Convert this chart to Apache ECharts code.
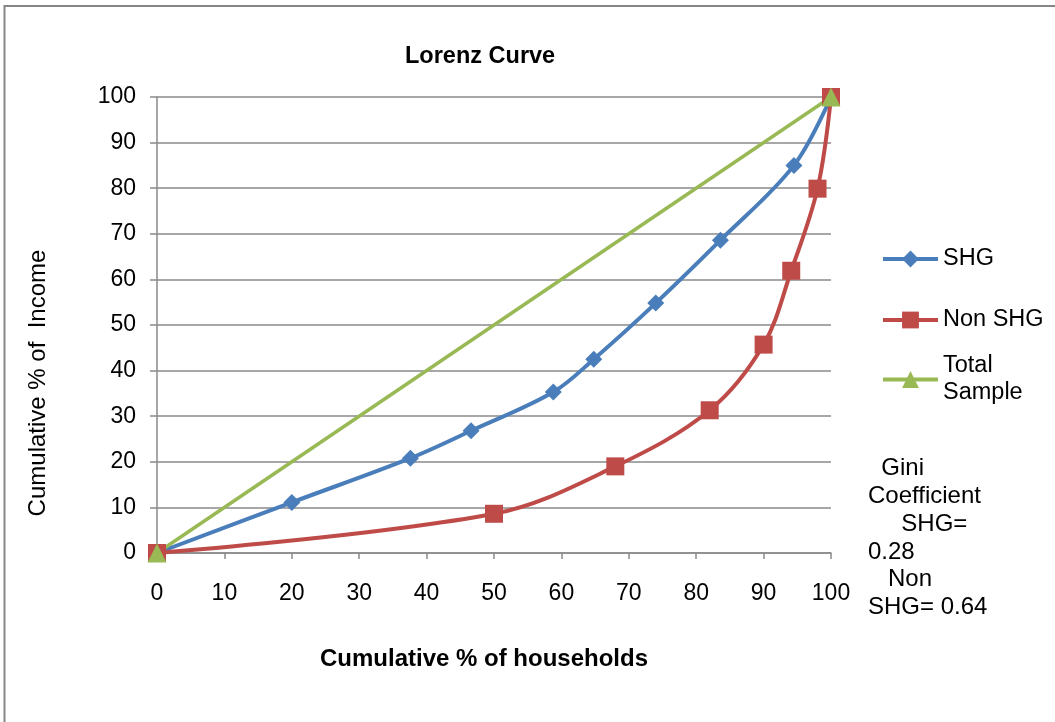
<!DOCTYPE html>
<html>
<head>
<meta charset="utf-8">
<script src="https://cdn.jsdelivr.net/npm/echarts@6/dist/echarts.min.js"></script>
<style>
  html, body { margin: 0; padding: 0; background: #fff; }
  #lorenzchart { width: 1055px; height: 722px; }
</style>
</head>
<body>
<div id="lorenzchart"></div>
<script>
// values
var shgPoints = [[0, 0], [20, 11.1], [37.6, 20.8], [46.6, 26.8], [58.8, 35.3], [64.8, 42.5], [74, 54.8], [83.6, 68.6], [94.5, 85], [100, 100]];
var nonShgPoints = [[0, 0], [50, 8.6], [68, 19], [82, 31.3], [90, 45.7], [94.1, 61.9], [98, 79.9], [100, 100]];
var totalPoints = [[0, 0], [100, 100]];
var giniLines = ['  Gini', 'Coefficient', '     SHG=', '0.28', '   Non', 'SHG= 0.64'];

var fontFam = 'Arial, "Liberation Sans", sans-serif';
var fontSz = 23;
var gridColor = '#8a8a8a';

var lorenzchart = echarts.init(document.getElementById('lorenzchart'));

var option = {
    backgroundColor: '#fff',
    animation: false,
    title: {
        text: 'Lorenz Curve',
        left: 400,
        top: 40,
        textStyle: {
            color: '#000',
            fontFamily: fontFam,
            fontSize: 23.5,
            fontWeight: 'bold'
        }
    },
    legend: [
        {
            orient: 'vertical',
            left: 876,
            top: 242,
            itemWidth: 55,
            itemHeight: 21,
            itemGap: 37,
            data: ['SHG', 'Non SHG'],
            lineStyle: { width: 4 },
            textStyle: { color: '#000', fontFamily: fontFam, fontSize: 23.5, lineHeight: 23 }
        },
        {
            orient: 'vertical',
            left: 876,
            top: 334,
            itemWidth: 55,
            itemHeight: 21,
            data: ['Total Sample'],
            lineStyle: { width: 4 },
            formatter: function () { return 'Total\nSample'; },
            textStyle: { color: '#000', fontFamily: fontFam, fontSize: 23.5, lineHeight: 27, padding: [27, 0, 0, 0] }
        }
    ],
    grid: {
        left: 157,
        right: 224,
        top: 97,
        bottom: 169
    },
    xAxis: {
        type: 'value',
        min: 0,
        max: 100,
        interval: 10,
        name: 'Cumulative % of households',
        nameLocation: 'middle',
        nameGap: 94,
        nameTextStyle: { color: '#000', fontFamily: fontFam, fontSize: 24, fontWeight: 'bold', padding: [0, 20, 0, 0] },
        axisLine: { show: true, lineStyle: { color: gridColor, width: 1.5 } },
        axisTick: { show: true, length: 6, inside: false, lineStyle: { color: gridColor, width: 1.5 } },
        axisLabel: { color: '#000', fontFamily: fontFam, fontSize: fontSz, margin: 29 },
        splitLine: { show: false }
    },
    yAxis: {
        type: 'value',
        min: 0,
        max: 100,
        interval: 10,
        name: 'Cumulative % of  Income',
        nameLocation: 'middle',
        nameGap: 107,
        nameTextStyle: { color: '#000', fontFamily: fontFam, fontSize: 24, padding: [0, 116, 0, 0] },
        axisLine: { show: true, lineStyle: { color: gridColor, width: 1.5 } },
        axisTick: { show: true, length: 7, inside: false, lineStyle: { color: gridColor, width: 1.5 } },
        axisLabel: { color: '#000', fontFamily: fontFam, fontSize: fontSz, margin: 21 },
        splitLine: { show: true, lineStyle: { color: gridColor, width: 1.5 } }
    },
    series: [
        {
            name: 'SHG',
            type: 'line',
            data: shgPoints,
            smooth: 0.35,
            symbol: 'diamond',
            symbolSize: 17,
            showAllSymbol: true,
            itemStyle: { color: '#4a7ebb' },
            lineStyle: { color: '#4a7ebb', width: 4 }
        },
        {
            name: 'Non SHG',
            type: 'line',
            data: nonShgPoints,
            smooth: 0.35,
            symbol: 'rect',
            symbolSize: 18,
            showAllSymbol: true,
            itemStyle: { color: '#be4b48' },
            lineStyle: { color: '#be4b48', width: 4 }
        },
        {
            name: 'Total Sample',
            type: 'line',
            data: totalPoints,
            symbol: 'triangle',
            symbolSize: 19,
            itemStyle: { color: '#98b954' },
            lineStyle: { color: '#98b954', width: 3.5 }
        }
    ],
    graphic: [
        {
            type: 'rect',
            silent: true,
            shape: { x: 4.5, y: 6, width: 1100, height: 800 },
            style: { fill: 'none', stroke: '#868686', lineWidth: 2 }
        },
        {
            type: 'text',
            left: 868,
            top: 455,
            style: {
                text: giniLines.join('\n'),
                fill: '#000',
                font: '24px ' + fontFam,
                lineHeight: 27.7
            }
        }
    ]
};
lorenzchart.setOption(option);

window.onresize = lorenzchart.resize;
</script>
</body>
</html>
